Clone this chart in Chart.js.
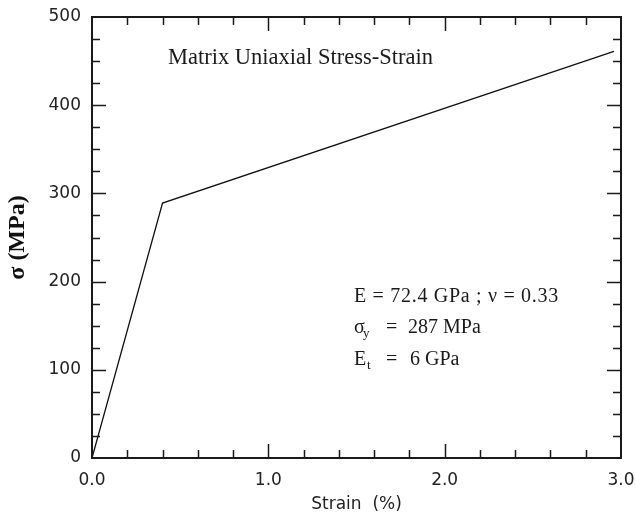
<!DOCTYPE html>
<html lang="en">
<head>
<meta charset="UTF-8">
<title>Matrix Uniaxial Stress-Strain</title>
<script src="https://cdn.jsdelivr.net/npm/chart.js"></script>
<style>
  body { margin: 0; background: #fff; }
</style>
</head>
<body>
<canvas id="curva" width="636" height="517"></canvas>

<script>
    // bilinear stress-strain curve of the matrix
    var strain = [0, 0.40, 2.96];
    var stress = [0, 289, 461];

    // axis ranges and tick spacing
    var xRange = [0, 3];
    var yRange = [0, 500];
    var xMajor = 1.0, xMinor = 0.2;
    var yMajor = 100, yMinor = 25;

    var pontos = strain.map(function (s, i) { return { x: s, y: stress[i] }; });

    var serif = '"Liberation Serif", "Times New Roman", serif';

    function texto(ctx, str, x, y, size) {
        ctx.font = size + 'px ' + serif;
        ctx.fillText(str, x, y);
    }

    // frame with inward ticks on all four sides plus the text notes
    var moldura = {
        id: 'moldura',
        afterDraw: function (chart) {
            var ctx = chart.ctx;
            var a = chart.chartArea;
            var sx = chart.scales.x, sy = chart.scales.y;
            ctx.save();
            ctx.strokeStyle = '#1a1a1a';
            ctx.lineWidth = 1.5;
            ctx.beginPath();
            var nx = Math.round((xRange[1] - xRange[0]) / xMinor);
            var per = Math.round(xMajor / xMinor);
            for (var i = 1; i < nx; i++) {
                var px = Math.round(sx.getPixelForValue(xRange[0] + i * xMinor)) + 0.5;
                var len = (i % per === 0) ? 14 : 8;
                ctx.moveTo(px, a.bottom); ctx.lineTo(px, a.bottom - len);
                ctx.moveTo(px, a.top); ctx.lineTo(px, a.top + len);
            }
            var ny = Math.round((yRange[1] - yRange[0]) / yMinor);
            per = Math.round(yMajor / yMinor);
            for (var j = 1; j < ny; j++) {
                var py = Math.round(sy.getPixelForValue(yRange[0] + j * yMinor)) + 0.5;
                var l2 = (j % per === 0) ? 14 : 8;
                ctx.moveTo(a.left, py); ctx.lineTo(a.left + l2, py);
                ctx.moveTo(a.right, py); ctx.lineTo(a.right - l2, py);
            }
            ctx.stroke();

            ctx.lineWidth = 2;
            ctx.strokeRect(a.left, a.top, a.right - a.left, a.bottom - a.top);

            // notes
            ctx.fillStyle = '#1a1a1a';
            ctx.textBaseline = 'alphabetic';
            texto(ctx, 'Matrix Uniaxial Stress-Strain', 168, 64, 22.5);

            ctx.letterSpacing = '0.7px';
            texto(ctx, 'E = 72.4 GPa ; \u03bd = 0.33', 354, 302, 20);
            ctx.letterSpacing = '0px';

            texto(ctx, '\u03c3', 354, 333, 20);
            texto(ctx, 'y', 363, 337, 13);
            texto(ctx, '=', 386, 333, 20);
            texto(ctx, '287 MPa', 408, 333, 20);

            texto(ctx, 'E', 354, 365, 20);
            texto(ctx, 't', 367, 369, 13);
            texto(ctx, '=', 386, 365, 20);
            texto(ctx, '6 GPa', 410, 365, 20);
            ctx.restore();
        }
    };

    new Chart(document.getElementById('curva'), {
        type: 'scatter',
        data: {
            datasets: [{
                data: pontos,
                showLine: true,
                borderColor: '#111',
                borderWidth: 1.3,
                pointRadius: 0,
                tension: 0,
                fill: false
            }]
        },
        options: {
            responsive: false,
            animation: false,
            events: [],
            layout: { padding: { top: 17, right: 15, left: 0, bottom: 0 } },
            plugins: { legend: { display: false }, tooltip: { enabled: false } },
            scales: {
                x: {
                    type: 'linear',
                    min: xRange[0], max: xRange[1],
                    grid: { display: false, drawTicks: false },
                    border: { display: false },
                    ticks: {
                        stepSize: xMajor,
                        padding: 12,
                        color: '#222',
                        font: { family: '"DejaVu Sans", sans-serif', size: 17 },
                        callback: function (v) { return Number(v).toFixed(1); }
                    },
                    title: {
                        display: true,
                        text: 'Strain  (%)',
                        color: '#222',
                        font: { family: '"DejaVu Sans", sans-serif', size: 17 },
                        padding: { top: 0, bottom: 2 }
                    },
                    afterFit: function (s) {
                        s.height = 59;
                        s.paddingLeft = 0; s.paddingRight = 0;
                    }
                },
                y: {
                    type: 'linear',
                    min: yRange[0], max: yRange[1],
                    grid: { display: false, drawTicks: false },
                    border: { display: false },
                    ticks: {
                        stepSize: yMajor,
                        padding: 11,
                        color: '#222',
                        font: { family: '"DejaVu Sans", sans-serif', size: 17 }
                    },
                    title: {
                        display: true,
                        text: '\u03c3 (MPa)',
                        color: '#111',
                        font: { family: serif, size: 24, weight: 'bold' },
                        padding: { top: 3, bottom: 0 }
                    },
                    afterFit: function (s) {
                        s.width = 92;
                        s.paddingTop = 0; s.paddingBottom = 0;
                    }
                }
            }
        },
        plugins: [moldura]
    });
</script>
</body>
</html>
